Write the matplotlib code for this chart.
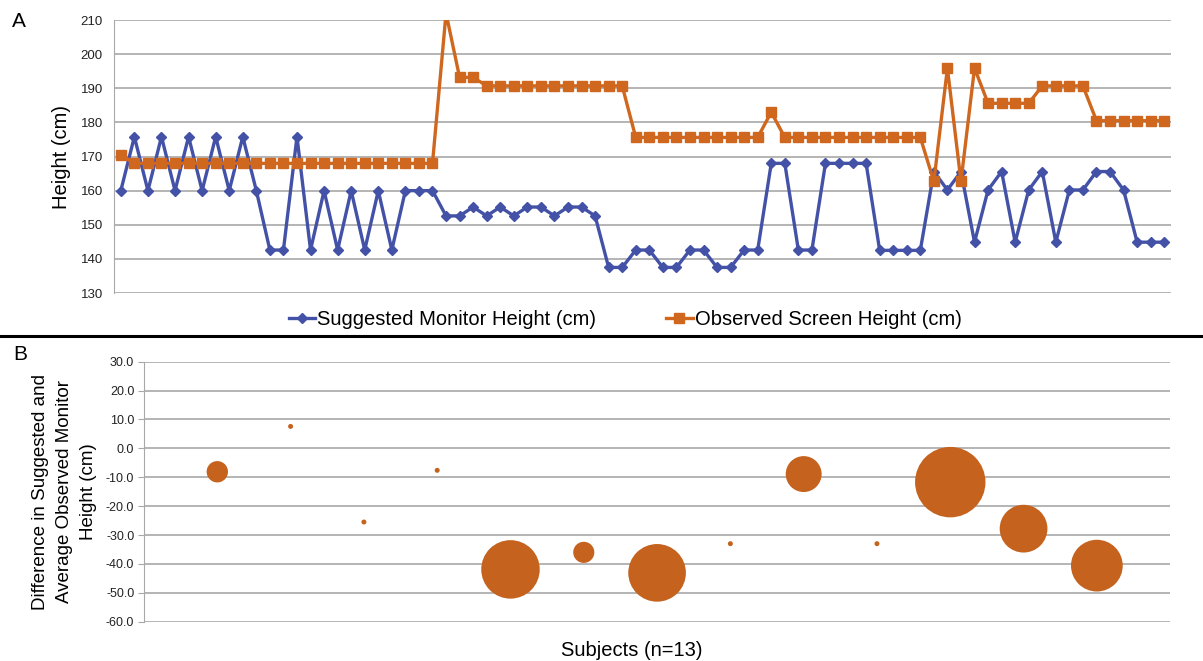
import numpy as np
import matplotlib
matplotlib.use("Agg")
import matplotlib.pyplot as plt
from matplotlib.lines import Line2D

plt.rcParams['font.family'] = ['Liberation Sans', 'DejaVu Sans']

# --- panel A: per-measurement heights (13 subjects x 6) ---
suggested = [160, 175.8, 160, 175.8, 160, 175.8, 160, 175.8, 160, 175.8, 160,
             142.6, 142.6, 175.8, 142.6, 160, 142.6, 160, 142.6, 160, 142.6,
             160, 160, 160,
             152.6, 152.6, 155.2, 152.6, 155.2, 152.6, 155.2, 155.2, 152.6, 155.2, 155.2, 152.6,
             137.5, 137.5, 142.6, 142.6, 137.5, 137.5, 142.6, 142.6, 137.5, 137.5, 142.6, 142.6,
             168, 168, 142.6, 142.6, 168, 168, 168, 168,
             142.5, 142.5, 142.5, 142.5,
             165.6, 160.2, 165.6, 144.9, 160.2, 165.6, 144.9, 160.2, 165.6, 144.9,
             160.2, 160.2, 165.6, 165.6, 160.2, 144.9, 144.9, 144.9]
# point 25 is off the top of the axis in the original
observed = [170.5] + [168] * 23 + [212] + [193.2] * 2 + [190.7] * 11 + [175.6] * 10 \
    + [183.0] + [175.6] * 11 + [162.7, 195.9, 162.7, 195.9] + [185.6] * 4 \
    + [190.7] * 4 + [180.5] * 6

# --- panel B: difference per subject, bubble size ---
subjects = list(range(1, 14))
difference = [-8.1, 7.6, -25.5, -7.6, -41.9, -36.0, -43.1, -33.0, -8.9, -33.0, -11.7, -27.8, -40.6]
bubble_size = [0.92, 0.05, 0.05, 0.05, 6.9, 0.9, 6.7, 0.05, 2.6, 0.05, 10.0, 4.6, 5.4]

BLUE = '#4352A6'
ORANGE = '#D0671F'
GRID = '#A8A8A8'

fig = plt.figure(figsize=(12.03, 6.61), dpi=100)

# panel A
axA = fig.add_axes([0.0948, 0.5567, 0.8786, 0.413])
x = np.arange(len(suggested))
axA.plot(x, suggested, color=BLUE, lw=2.4, marker='D', ms=5.5,
         label='Suggested Monitor Height (cm)')
axA.plot(x, observed, color=ORANGE, lw=2.4, marker='s', ms=6.5,
         label='Observed Screen Height (cm)')
axA.set_xlim(-0.5, len(suggested) - 0.5)
axA.set_ylim(130, 210)
axA.set_yticks(range(130, 211, 10))
axA.set_xticks([])
axA.yaxis.grid(True, color=GRID, lw=1.2)
axA.set_axisbelow(True)
for s in ['top', 'right', 'bottom']:
    axA.spines[s].set_visible(False)
axA.spines['left'].set_color(GRID)
axA.tick_params(axis='y', length=0, labelsize=9.5, pad=8, labelcolor='#222222')
axA.set_ylabel('Height (cm)', fontsize=14.5, labelpad=7)
leg = axA.legend(loc='upper center', bbox_to_anchor=(0.4835, 0.005), ncol=2,
                 frameon=False, fontsize=14.5, handlelength=1.3,
                 handletextpad=0.1, columnspacing=3.5)

fig.text(0.010, 0.967, 'A', fontsize=15, va='center')

# separator
fig.add_artist(Line2D([0, 1], [0.4917, 0.4917], transform=fig.transFigure,
                      color='black', lw=2.2))

# panel B
axB = fig.add_axes([0.1197, 0.0595, 0.853, 0.3933])
axB.scatter(subjects, difference, s=[b * 257 for b in bubble_size],
            color='#C4621E', edgecolors='none', zorder=3)
axB.set_xlim(0, 14)
axB.set_ylim(-60, 30)
axB.set_yticks(range(-60, 31, 10))
axB.set_yticklabels([f'{v:.1f}' for v in range(-60, 31, 10)])
axB.set_xticks([])
axB.yaxis.grid(True, color=GRID, lw=1.2)
axB.set_axisbelow(True)
for s in ['top', 'right', 'bottom']:
    axB.spines[s].set_visible(False)
axB.spines['left'].set_color(GRID)
axB.tick_params(axis='y', length=4, color=GRID, labelsize=9, pad=3, labelcolor='#222222')
axB.set_ylabel('Difference in Suggested and\nAverage Observed Monitor\nHeight (cm)',
               fontsize=13.5, labelpad=6.5, linespacing=1.55)
axB.set_xlabel('Subjects (n=13)', fontsize=14.5, labelpad=14, x=0.4756)

fig.text(0.011, 0.463, 'B', fontsize=15, va='center')

fig.savefig('out.png', dpi=100)
